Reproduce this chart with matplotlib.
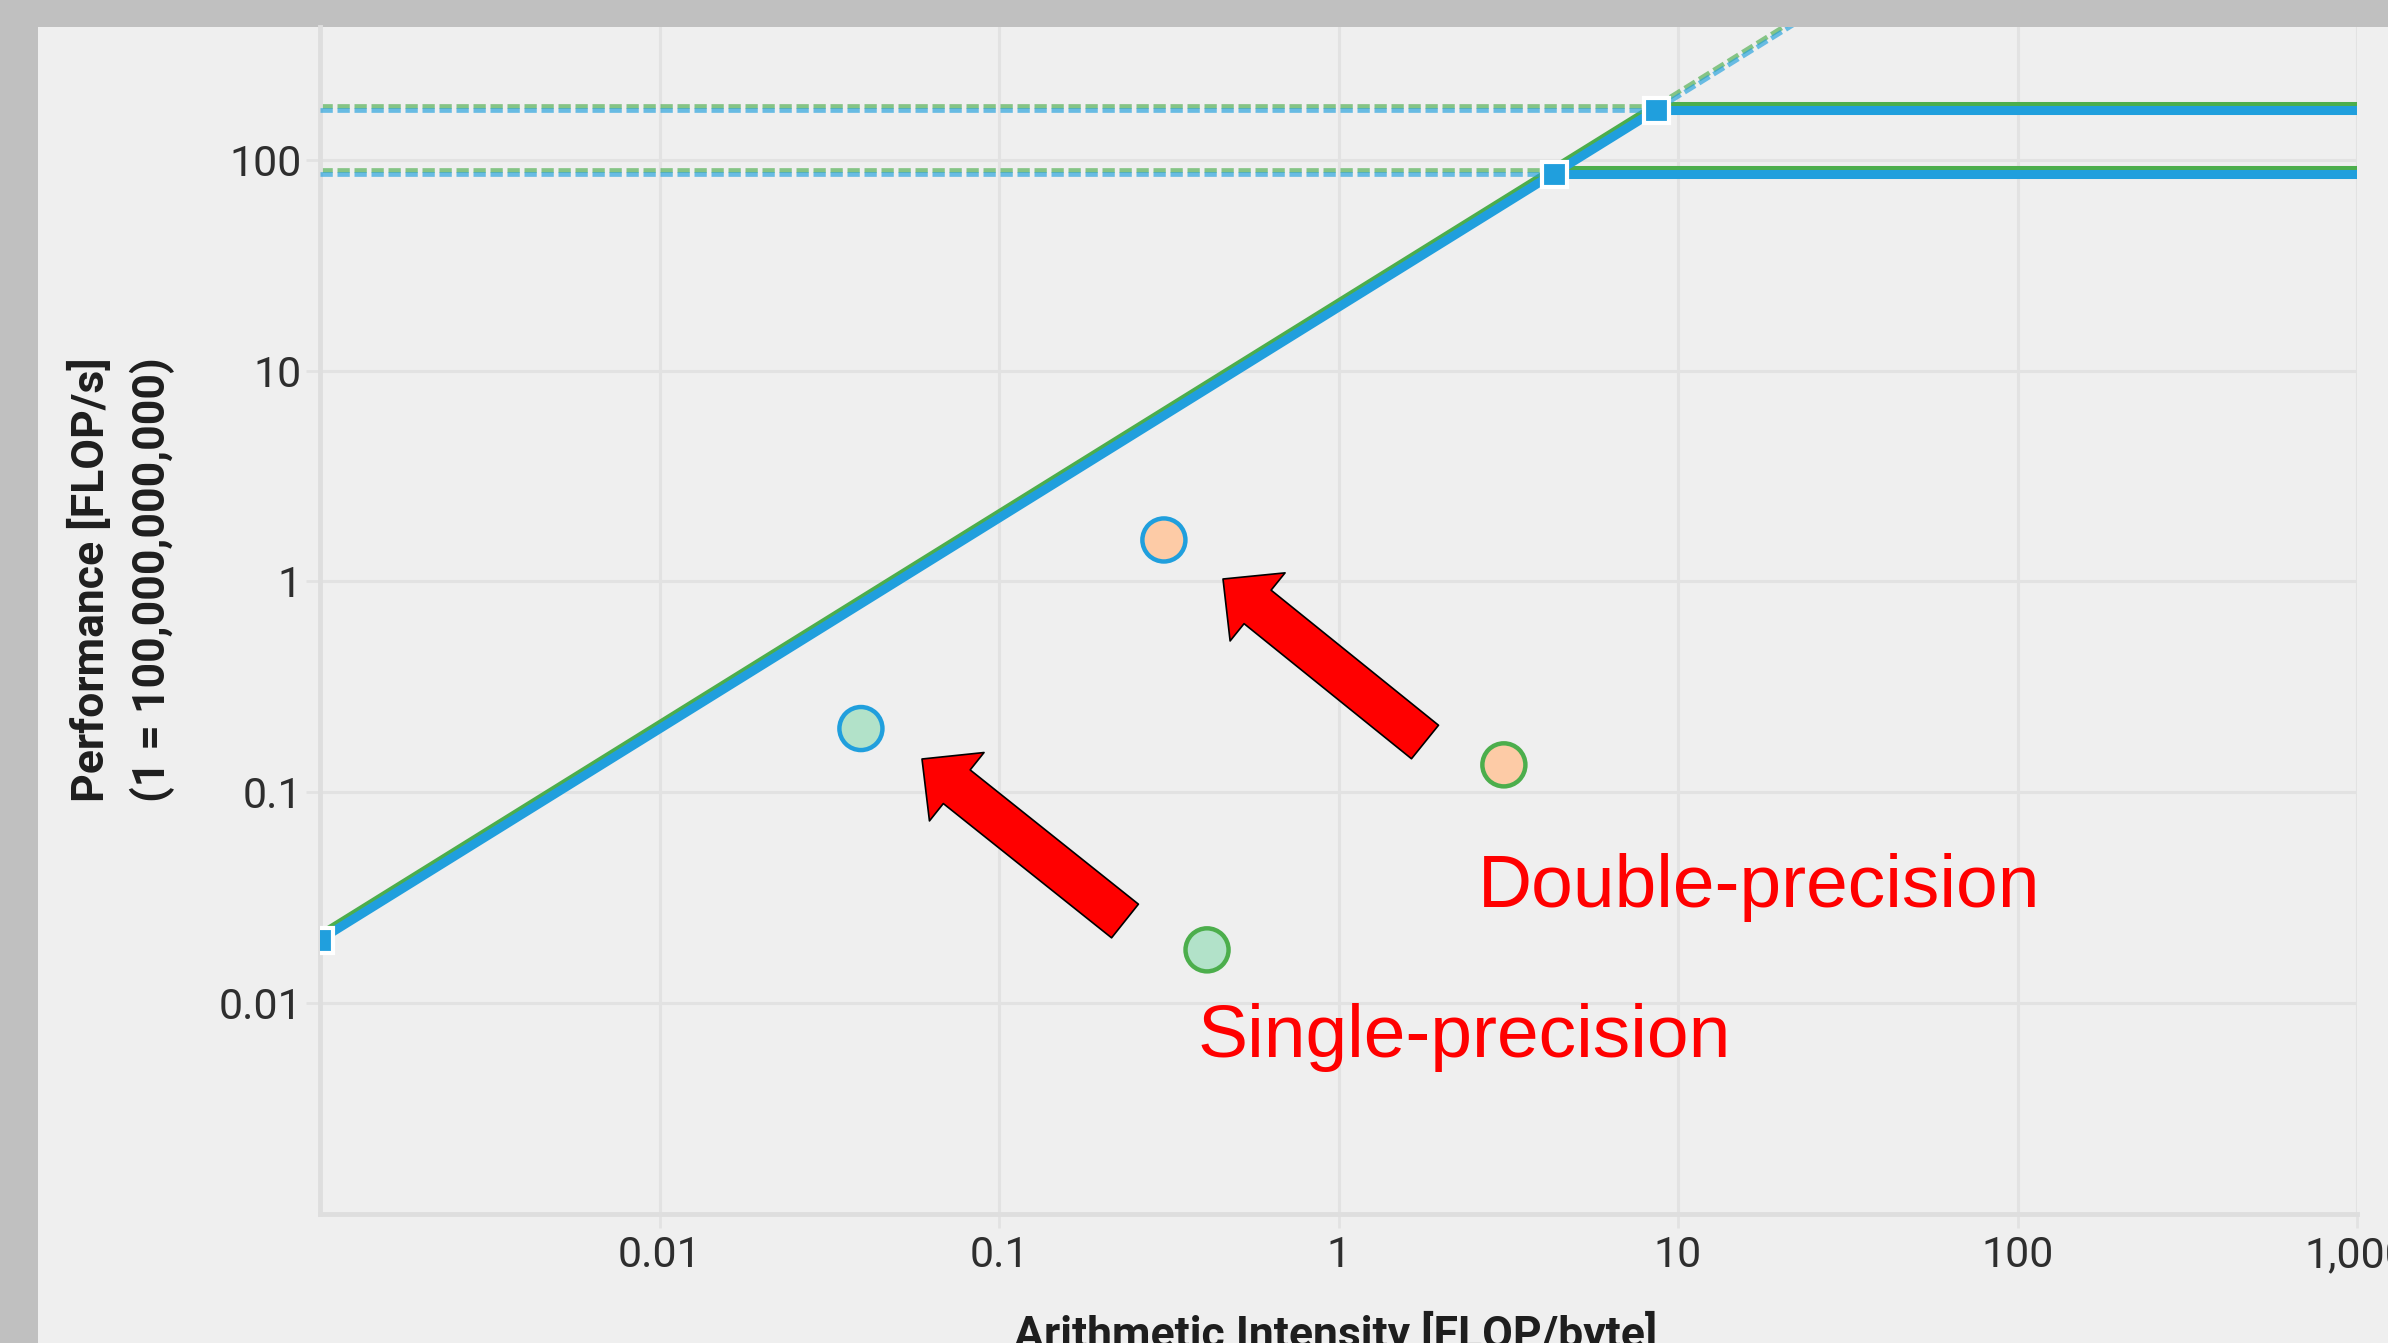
import matplotlib
matplotlib.use("Agg")
import matplotlib.pyplot as plt
import matplotlib.patches as patches
import matplotlib.transforms as mtransforms
from matplotlib.ticker import NullLocator

W, H = 2388, 1343

# roofline (performance in units of 1e11 FLOP/s)
start_x, start_y = 0.001, 0.02
ridge_x = [4.3, 8.6]
ridge_y = [86, 172]
x_max = 1000
diag_end_x, diag_end_y = 30, 600   # runs past the top, gets clipped

# measured kernels
app_x = [0.306, 0.0392, 3.07, 0.410]
app_y = [1.574, 0.2007, 0.135, 0.0179]
app_fill = ['#fdcba6', '#b2e2c9', '#fdcba6', '#b2e2c9']
app_edge = ['#209fdd', '#209fdd', '#4cae4c', '#4cae4c']

x_ticks = [0.01, 0.1, 1, 10, 100, 1000]
x_labels = ['0.01', '0.1', '1', '10', '100', '1,000']
y_ticks = [0.01, 0.1, 1, 10, 100]
y_labels = ['0.01', '0.1', '1', '10', '100']

blue = '#209fdd'
green = '#4cae4c'
grid_c = '#e2e2e2'


def px(x, y):
    # pixel position (top-left origin) -> figure fraction
    return (x / W, 1 - y / H)


fig = plt.figure(figsize=(W / 100, H / 100), dpi=100, facecolor='#c0c0c0')
fig.add_artist(patches.Rectangle((38 / W, 0), 1 - 38 / W, 1 - 27 / H,
                                 transform=fig.transFigure, fc='#efefef',
                                 ec='none', zorder=-10))

ax = fig.add_axes([320 / W, 129 / H, 2037 / W, 1187 / H])
ax.set_facecolor('none')
ax.set_xscale('log')
ax.set_yscale('log')
ax.set_xlim(0.001, 1000)
ax.set_ylim(0.001, 10 ** 2.63)

ax.set_xticks(x_ticks, x_labels)
ax.set_yticks(y_ticks, y_labels)
ax.xaxis.set_minor_locator(NullLocator())
ax.yaxis.set_minor_locator(NullLocator())
ax.grid(True, color=grid_c, lw=2.2)
ax.set_axisbelow(True)
for s in ['top', 'right']:
    ax.spines[s].set_visible(False)
for s in ['left', 'bottom']:
    ax.spines[s].set_color('#dedede')
    ax.spines[s].set_linewidth(3.5)
ax.tick_params(length=10, width=2, color=grid_c, labelsize=31,
               labelcolor='#2e2e2e')
ax.tick_params(axis='x', pad=5)
ax.tick_params(axis='y', pad=3)
for lab in ax.get_xticklabels() + ax.get_yticklabels():
    lab.set_family('Roboto')

up = mtransforms.offset_copy(ax.transData, fig=fig, x=0, y=4, units='dots')


def roof(color, tr, z):
    for rx, ry in zip(ridge_x, ridge_y):
        ax.plot([start_x, rx], [ry, ry], color=color, lw=3.4, dashes=(2.6, 1),
                alpha=0.65, transform=tr, zorder=z)
    ax.plot([ridge_x[1], diag_end_x], [ridge_y[1], diag_end_y], color=color,
            lw=3.4, dashes=(2.6, 1), alpha=0.65, transform=tr, zorder=z)
    ax.plot([start_x] + ridge_x, [start_y] + ridge_y, color=color, lw=6.5,
            transform=tr, zorder=z + 1)
    for rx, ry in zip(ridge_x, ridge_y):
        ax.plot([rx, x_max], [ry, ry], color=color, lw=6.5,
                solid_capstyle='butt', transform=tr, zorder=z + 1)


roof(green, up, 2)
roof(blue, ax.transData, 3)
ax.plot([start_x] + ridge_x, [start_y] + ridge_y, ls='none', marker='s',
        ms=18, mfc=blue, mec='white', mew=3, zorder=5)

ax.scatter(app_x, app_y, s=31 ** 2, c=app_fill, edgecolors=app_edge,
           linewidths=3.2, zorder=6)

# axis titles
fig.text(*px(91, 580), 'Performance [FLOP/s]', rotation=90, ha='center',
         va='center', fontsize=32, fontweight='bold', family='Roboto',
         color='#1e1e1e')
fig.text(*px(152, 580), '(1 = 100,000,000,000)', rotation=90, ha='center',
         va='center', fontsize=32, fontweight='bold', family='Roboto',
         color='#1e1e1e')
fig.text(*px(1336, 1348), 'Arithmetic Intensity [FLOP/byte]', ha='center',
         va='baseline', fontsize=32, fontweight='bold', family='Roboto',
         color='#1e1e1e')

# red call-outs
fig.text(*px(1478, 907), 'Double-precision', ha='left', va='baseline',
         fontsize=54, color='#ff0000', family='Liberation Sans')
fig.text(*px(1198, 1057), 'Single-precision', ha='left', va='baseline',
         fontsize=54, color='#ff0000', family='Liberation Sans')

arrows = [((1125, 921), (922, 759)), ((1425, 742), (1223, 579))]
for tail, tip in arrows:
    fig.add_artist(patches.FancyArrowPatch(
        px(*tail), px(*tip), transform=fig.transFigure,
        arrowstyle='simple,head_length=32,head_width=63,tail_width=31',
        mutation_scale=1, shrinkA=0, shrinkB=0, fc='#ff0000', ec='black',
        lw=1.2, zorder=10))

fig.savefig('out.png', dpi=100, facecolor=fig.get_facecolor())
